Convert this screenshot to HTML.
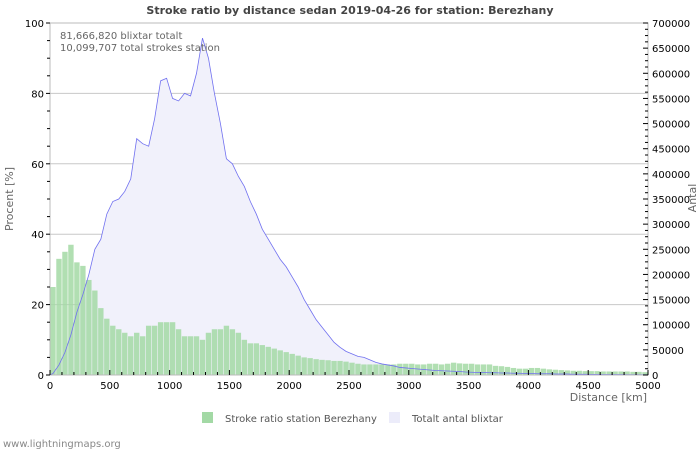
<!DOCTYPE html>
<html><head><meta charset="utf-8"><style>
body{margin:0;background:#fff;font-family:"Liberation Sans","DejaVu Sans",sans-serif}
svg text{font-family:"DejaVu Sans","Liberation Sans",sans-serif}
</style></head><body>
<svg id="c" width="700" height="450" xmlns="http://www.w3.org/2000/svg"></svg>
<script>
const distances=[];for(let i=0;i<100;i++)distances.push(i*50);
const ratioValues=[25,33,35,37,32,31,27,24,19,16,14,13,12,11,12,11,14,14,15,15,15,13,11,11,11,10,12,13,13,14,13,12,10,9,9,8.5,8,7.5,7,6.5,6,5.5,5,4.8,4.5,4.3,4.2,4,4,3.8,3.5,3.2,3,3,3,3,3,3,3.2,3.2,3.2,3,3,3.2,3.2,3,3.2,3.5,3.3,3.2,3.2,3,3,3,2.6,2.5,2.3,2,1.8,1.8,2,2,1.8,1.6,1.5,1.4,1.3,1.2,1.2,1.1,1.1,1.1,1,1,1,1,1,0.9,0.9,0.8];
const totalValues=[3000,20000,45000,80000,125000,160000,200000,250000,270000,320000,345000,350000,365000,390000,470000,460000,455000,510000,585000,590000,550000,545000,560000,555000,600000,670000,630000,560000,500000,430000,420000,395000,375000,345000,320000,290000,270000,250000,230000,215000,195000,175000,150000,130000,110000,95000,80000,65000,55000,47000,42000,37000,35000,30000,25000,22000,20000,18000,15000,14000,13000,12000,11000,10000,9000,8500,8000,7500,7000,6000,5500,5000,5000,4500,4500,4000,4000,3500,3500,3000,3000,2500,2500,2500,2000,2000,2000,1500,1500,1500,1200,1200,1000,1000,1000,900,800,700,600,500];
const leftTicks=[0,20,40,60,80,100];
const rightTicks=[0,50000,100000,150000,200000,250000,300000,350000,400000,450000,500000,550000,600000,650000,700000];
const xTicks=[0,500,1000,1500,2000,2500,3000,3500,4000,4500,5000];
const X0=50,X1=648,Y0=375,Y1=23;
const xs=d=>X0+d/5000*(X1-X0);
const yl=v=>Y0-v/100*(Y0-Y1);
const yr=v=>Y0-v/700000*(Y0-Y1);
const svg=document.getElementById('c');const NS='http://www.w3.org/2000/svg';
function mk(t,a,p){const e=document.createElementNS(NS,t);for(const k in a)e.setAttribute(k,a[k]);(p||svg).appendChild(e);return e;}
let e;
e=mk('rect',{x:X0,y:Y1,width:X1-X0,height:Y0-Y1,fill:'#fff'});


leftTicks.forEach(v=>{if(v>0&&v<100){e=mk('line',{x1:X0,x2:X1,y1:yl(v),y2:yl(v),stroke:'#c8c8c8'});

}});
let pts=[[xs(0),yr(0)]];totalValues.forEach((v,i)=>{pts.push([xs(distances[i]+25),yr(v)]);});
pts.push([X1,yr(totalValues[totalValues.length-1])]);
let ln=pts.map((p,i)=>(i?'L':'M')+p[0]+','+p[1]).join(' ');
e=mk('path',{d:ln+' L'+X1+','+Y0+' L'+X0+','+Y0+'Z',fill:'#f1f1fb'});


const bw=(X1-X0)/100;
ratioValues.forEach((v,i)=>{e=mk('rect',{x:xs(distances[i])+0.3,y:yl(v),width:bw-0.6,height:Y0-yl(v),fill:'#a3d9a5',opacity:0.85});

});
e=mk('path',{d:ln,fill:'none',stroke:'#7070f0','stroke-width':0.8});


e=mk('path',{d:`M${X0},${Y1}V${Y0}H${X1}V${Y1}H${X0}`,fill:'none',stroke:'#bbb'});


for(let k=0;k<=50;k++){const x=xs(k*100);const maj=k%5==0;e=mk('line',{x1:x,x2:x,y1:Y0,y2:Y0-(maj?5:3),stroke:'#000'});

}
xTicks.forEach(v=>{e=mk('text',{x:xs(v),y:Y0+14,'font-size':10,'text-anchor':'middle',fill:'#000'});e.textContent=v;

});
for(let k=0;k<=20;k++){const y=yl(k*5);e=mk('line',{x1:X0-(k%4==0?4:3),x2:X0,y1:y,y2:y,stroke:'#000'});

}
leftTicks.forEach(v=>{e=mk('text',{x:X0-6,y:yl(v)+4,'font-size':10,'text-anchor':'end',fill:'#000'});e.textContent=v;

});
for(let k=0;k<=56;k++){const y=yr(k*12500);e=mk('line',{x1:X1,x2:X1-(k%4==0?5:3),y1:y,y2:y,stroke:'#000'});

}
rightTicks.forEach(v=>{e=mk('text',{x:X1+4,y:yr(v)+4,'font-size':10,fill:'#000'});e.textContent=v;

});
function txt(s,a,n){e=mk('text',a);e.textContent=s;return e;}
txt('Stroke ratio by distance sedan 2019-04-26 for station: Berezhany',{x:350,y:14,'font-size':11,'font-weight':'bold','text-anchor':'middle',fill:'#444'},'chart-title');
txt('81,666,820 blixtar totalt',{x:60,y:39,'font-size':10,fill:'#666'},'total-strokes-note');
txt('10,099,707 total strokes station',{x:60,y:51,'font-size':10,fill:'#666'},'station-strokes-note');
txt('Procent   [%]',{x:13,y:199,'font-size':11,'text-anchor':'middle',fill:'#666',transform:'rotate(-90 13 199)','xml:space':'preserve'},'y-axis-title-left');
txt('Antal',{x:696,y:198,'font-size':11,'text-anchor':'middle',fill:'#666',transform:'rotate(-90 696 198)'},'y-axis-title-right');
txt('Distance   [km]',{x:647,y:401,'font-size':11,'text-anchor':'end',fill:'#666','xml:space':'preserve'},'x-axis-title');
e=mk('rect',{x:202,y:412,width:11,height:11,fill:'#a3d9a5'});
txt('Stroke ratio station Berezhany',{x:225,y:422,'font-size':10,fill:'#555'},'legend-entry-ratio');
e=mk('rect',{x:389,y:412,width:11,height:11,fill:'#ececfa'});
txt('Totalt antal blixtar',{x:412,y:422,'font-size':10,fill:'#555'},'legend-entry-total');
txt('www.lightningmaps.org',{x:3,y:447,'font-size':10,fill:'#888'},'footer-credit');
</script>
</body></html>
